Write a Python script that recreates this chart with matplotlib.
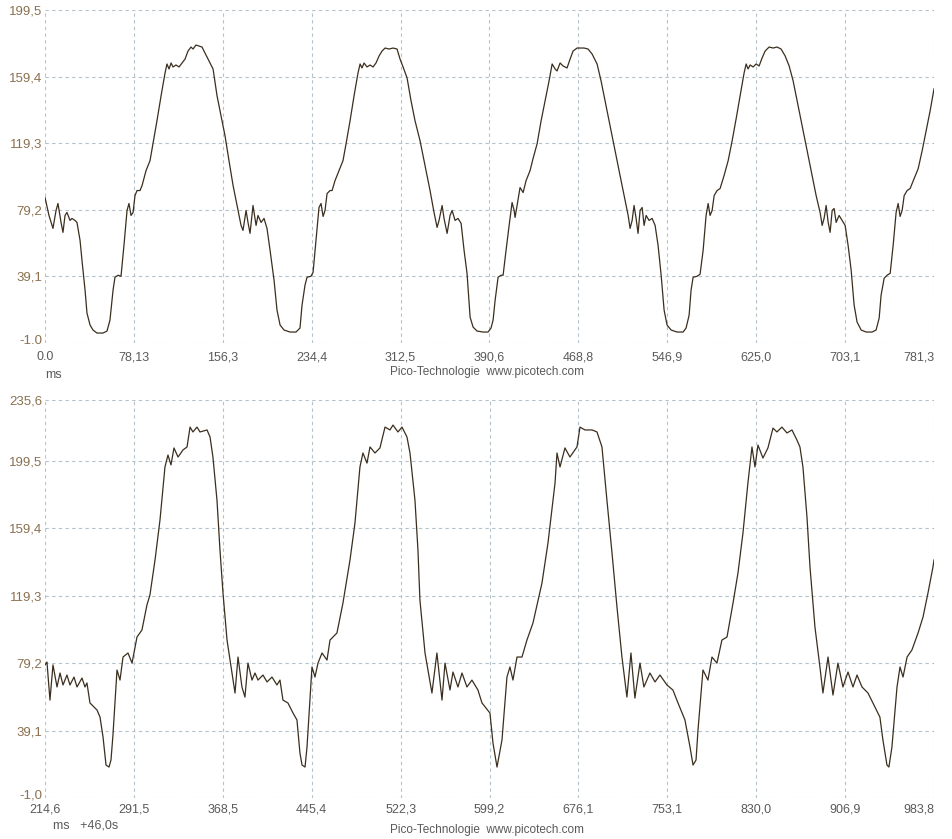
import matplotlib
matplotlib.use("Agg")
import matplotlib.pyplot as plt
from matplotlib.transforms import ScaledTranslation

plt.rcParams['font.family'] = ['Liberation Sans', 'DejaVu Sans']

# upper trace (ms, value)
t_top = [0.0, 3.5, 7.0, 9.7, 11.4, 14.1, 15.8, 17.6, 19.3, 22.0, 23.7, 26.4, 28.1, 30.8, 32.5,
         35.2, 36.9, 39.6, 42.2, 45.7, 51.0, 54.5, 57.1, 59.8, 61.5, 64.2, 66.8, 69.4, 72.1, 73.8,
         75.6, 77.4, 79.1, 80.9, 83.5, 85.3, 88.8, 92.3, 94.9, 98.4, 102.0, 105.5, 107.2, 109.0,
         110.8, 112.5, 115.1, 117.8, 120.4, 123.1, 125.7, 128.3, 130.1, 132.7, 135.4, 138.0, 140.6,
         144.2, 147.7, 151.2, 154.7, 158.2, 161.7, 165.3, 168.8, 172.3, 174.0, 176.7, 178.4, 180.2,
         182.8, 185.5, 187.2, 189.9, 192.5, 195.1, 197.8, 201.3, 203.9, 206.6, 210.1, 215.4, 220.6,
         224.1,
         225.9, 228.5, 230.3, 233.8, 235.6, 238.2, 240.8, 242.6, 244.4, 246.1, 247.9, 250.5, 252.3,
         254.9, 258.4, 261.9, 264.6, 268.1, 271.6, 275.1, 276.9, 278.6, 280.4, 283.0, 285.7, 288.3,
         290.9, 293.6, 296.2, 298.9, 302.4, 305.9, 309.4, 312.0, 314.7, 318.2, 321.7, 325.2, 329.6,
         334.0, 338.4, 341.9, 344.6, 346.3, 349.0, 350.7, 353.4, 356.0, 357.8, 360.4, 363.0, 365.7,
         368.3, 370.9, 373.6, 376.2, 379.7, 385.0, 389.4, 392.0, 393.8,
         395.6, 398.2, 400.8, 402.6, 405.2, 407.9, 410.5, 412.3, 413.1, 414.9, 417.5, 420.2, 422.8,
         426.3, 428.9, 432.5, 436.0, 439.5, 443.0, 445.7, 448.3, 450.0, 452.7, 455.3, 458.8, 461.5,
         464.1, 467.6, 470.3, 473.8, 477.3, 480.8, 485.2, 488.7, 492.2, 496.6, 501.0, 505.4, 509.8,
         512.5, 514.2, 516.0, 517.7, 519.5, 521.2, 523.0, 524.8, 526.5, 528.3, 530.9, 533.6, 536.2,
         538.8, 541.5, 544.1, 546.7, 550.3, 555.5, 560.8, 563.4, 566.1,
         567.8, 569.6, 573.1, 575.7, 578.4, 581.0, 582.8, 584.5, 586.3, 588.1, 590.7, 593.3, 596.8,
         600.4, 603.9, 607.4, 610.9, 614.4, 616.2, 617.9, 619.7, 622.3, 625.0, 627.6, 630.2, 632.9,
         636.4, 639.9, 643.4, 646.9, 650.5, 654.0, 657.5, 661.0, 664.5, 668.9, 673.3, 677.7, 681.2,
         683.0, 684.7, 686.5, 688.3, 690.0, 691.8, 693.5, 695.3, 697.9, 700.6, 703.2, 705.8, 708.5,
         711.1, 713.7, 717.3, 721.7, 726.9, 730.4, 733.1,
         734.8, 737.5, 740.1, 742.8, 745.4, 748.0, 749.8, 751.5, 753.3, 755.1, 757.7, 760.3, 763.9,
         767.4, 770.9, 774.4, 777.9, 781.3]
v_top = [86.6, 75.8, 68.0, 78.8, 83.0, 71.6, 65.6, 75.8, 77.6, 72.8, 74.0, 72.8, 71.6, 60.8, 48.8,
         30.8, 17.0, 9.8, 6.8, 5.0, 5.0, 6.2, 12.8, 30.8, 38.6, 39.8, 39.2, 57.8, 78.8, 83.0,
         75.8, 77.6, 87.8, 90.8, 90.8, 93.8, 102.8, 108.8, 119.0, 132.8, 147.8, 161.6, 167.0, 164.0,
         167.6, 165.2, 166.4, 165.2, 167.6, 170.0, 174.8, 177.2, 176.0, 178.4, 177.8, 177.2, 173.6,
         168.8, 164.0, 147.8, 135.8, 123.8, 108.8, 93.8, 81.8, 69.8, 66.8, 78.8, 71.6, 65.0,
         81.8, 69.8, 75.8, 71.6, 74.0, 68.0, 54.8, 36.8, 18.8, 9.8, 6.8, 5.6, 5.6,
         8.0,
         21.8, 33.8, 38.6, 39.2, 41.6, 60.8, 80.6, 83.0, 75.2, 78.8, 89.0, 90.8, 90.8,
         96.8, 102.8, 108.8, 119.0, 132.8, 147.8, 161.6, 167.0, 164.6, 167.6, 165.2, 166.4, 165.2,
         167.6, 171.8, 174.8, 176.6, 176.0, 176.6, 176.0, 170.0, 165.2, 158.6, 144.8, 132.8, 120.8,
         105.8, 90.8, 77.6, 68.6, 72.8, 81.8, 74.0, 65.0, 75.8, 78.8, 72.8, 74.0, 71.0,
         54.8, 41.0, 14.6, 8.6, 6.2, 5.6, 5.6, 8.0, 12.8,
         24.8, 38.6, 39.8, 39.8, 54.8, 69.8, 83.6, 78.8, 74.6, 81.8, 92.6, 89.6, 96.8,
         102.8, 110.0, 119.0, 132.8, 144.8, 156.8, 167.0, 164.0, 162.8, 167.6, 165.8, 164.6, 170.0,
         174.8, 176.6, 176.6, 176.6, 176.0, 173.0, 167.0, 156.8, 144.8, 129.8, 114.8, 99.8, 84.8,
         75.8, 68.0, 72.8, 81.8, 74.0, 65.0, 78.8, 80.6, 69.8, 75.8, 72.8, 74.0, 69.8,
         57.8, 39.8, 18.8, 9.8, 6.8, 5.6, 5.6, 8.0, 15.8,
         30.8, 38.6, 39.2, 40.4, 54.8, 75.8, 83.0, 75.8, 78.8, 87.8, 90.8, 92.0, 99.8,
         108.8, 120.8, 134.0, 147.8, 161.6, 167.0, 164.0, 166.4, 165.2, 167.0, 165.8, 170.6, 174.8,
         177.2, 176.6, 177.2, 176.0, 171.8, 165.8, 156.8, 144.8, 132.8, 117.8, 102.8, 87.8, 77.6,
         69.8, 74.0, 81.8, 71.6, 65.6, 78.8, 80.0, 71.6, 75.8, 72.8, 69.8, 57.8, 42.8,
         21.8, 11.6, 6.8, 5.6, 5.6, 6.8, 14.0,
         27.8, 38.0, 39.8, 41.0, 57.8, 77.6, 83.0, 75.2, 78.8, 87.8, 90.8, 92.0, 98.0,
         104.0, 114.8, 126.8, 138.8, 152.0]

# lower trace (ms, value)
t_bot = [214.6, 216.3, 218.9, 221.5, 225.0, 227.6, 230.2, 233.6, 236.2, 239.7, 242.3, 246.6, 249.2,
         250.9, 253.5, 259.6, 262.2, 264.8, 267.4, 270.0, 271.7, 273.4, 276.9, 279.5, 282.1, 286.4,
         289.9, 294.2, 298.5, 302.8, 305.4, 309.8, 314.1, 318.4, 321.0, 323.6, 326.2, 329.7, 334.0,
         337.5, 340.1, 342.6, 346.1, 348.7, 354.8, 357.4, 359.9, 363.4, 366.0, 368.6, 372.1, 376.4,
         379.0, 381.6, 385.0, 387.6, 390.2, 393.7, 396.3, 398.9, 403.2, 406.7, 411.0, 415.3, 417.9,
         420.5, 424.8, 429.2, 432.6, 435.2, 437.0, 439.6, 441.3, 445.6, 448.2, 450.8, 454.3, 458.6,
         461.2, 467.2, 472.4, 478.5, 482.8, 487.1, 489.7, 493.2, 495.8, 500.1, 504.4, 508.8, 513.1,
         515.7, 520.0, 523.5, 527.8, 530.4, 534.7, 537.3, 539.0, 543.4, 549.4, 553.7, 558.1, 560.7,
         565.0, 567.6, 571.9, 575.4, 579.7, 584.0, 589.2, 592.7, 599.6, 602.2, 605.7, 610.0, 614.3,
         616.9, 619.5, 623.0, 627.3, 631.6, 636.8, 644.6, 649.8, 655.9, 657.6, 660.2, 664.5, 668.8,
         674.9, 677.5, 681.8, 687.9, 692.2, 696.5, 700.8, 705.2, 709.5, 713.8, 718.1, 721.6, 725.0,
         729.4, 732.8, 738.0, 742.4, 746.7, 752.7, 757.9, 762.3, 768.3, 772.7, 775.3, 777.9, 779.6,
         783.9, 788.2, 791.7, 796.0, 800.3, 804.7, 809.9, 814.2, 818.5, 822.8, 826.3, 828.9, 831.5,
         835.8, 840.1, 844.5, 847.9, 852.2, 856.6, 860.9, 865.2, 867.8, 870.4, 873.9, 876.5, 880.8,
         885.1, 887.7, 892.1, 896.4, 900.7, 905.0, 909.4, 913.7, 917.2, 921.5, 926.7, 932.7, 937.0,
         939.6, 943.1, 944.8, 947.4, 951.8, 954.4, 957.0, 960.5, 964.7, 970.0, 974.3, 978.6, 982.9,
         983.8]
v_bot = [78.1, 79.8, 57.2, 78.1, 65.0, 73.3, 66.2, 72.1, 66.2, 70.9, 65.0, 70.3, 65.0,
         67.4, 55.5, 51.3, 47.1, 35.3, 18.6, 17.4, 21.6, 36.4, 75.1, 69.1, 82.8, 85.2,
         79.2, 94.7, 98.9, 113.7, 119.7, 140.5, 164.3, 195.8, 202.9, 197.0, 207.1, 201.7, 205.9,
         207.7, 219.5, 216.6, 219.5, 216.6, 217.8, 213.6, 201.7, 176.1, 146.4, 120.9, 92.9, 73.3,
         61.4, 82.8, 65.0, 59.0, 79.2, 69.1, 73.3, 69.1, 72.1, 68.0, 70.9, 66.2, 69.1,
         57.2, 55.5, 49.5, 45.4, 25.7, 18.6, 17.4, 29.3, 76.9, 70.9, 79.2, 85.2, 81.0,
         92.9, 97.1, 114.9, 140.5, 162.5, 195.8, 204.1, 198.1, 207.7, 204.1, 207.1, 219.5, 217.8,
         220.7, 216.6, 219.5, 213.6, 204.1, 176.1, 146.4, 116.7, 85.2, 61.4, 85.2, 57.2, 79.2,
         63.2, 73.9, 65.0, 73.3, 65.0, 69.1, 63.2, 55.5, 49.5, 31.7, 17.4, 33.5, 70.9,
         76.9, 69.1, 82.8, 82.8, 92.9, 103.0, 126.8, 150.6, 186.3, 204.1, 195.8, 207.1, 201.7,
         207.7, 219.5, 217.8, 217.8, 216.6, 207.7, 176.1, 144.6, 112.5, 82.8, 59.0, 85.2, 58.4,
         79.2, 65.0, 73.3, 68.0, 72.1, 66.2, 63.2, 55.5, 45.4, 29.3, 18.6, 21.6, 39.4,
         75.1, 69.1, 82.8, 79.2, 92.9, 94.7, 114.9, 132.8, 156.5, 186.3, 207.7, 195.8, 208.8,
         201.1, 207.1, 218.9, 216.6, 219.5, 216.0, 217.8, 211.8, 207.7, 195.8, 166.0, 136.3, 100.6,
         76.9, 61.4, 82.8, 60.2, 79.2, 65.0, 73.9, 65.0, 72.1, 65.0, 61.4, 53.1, 47.1,
         33.5, 18.6, 17.4, 29.3, 65.0, 76.9, 70.9, 82.8, 87.0, 97.1, 106.6, 120.9, 136.3,
         140.5]

# axis ticks
xt_top = [0.0, 78.13, 156.3, 234.4, 312.5, 390.6, 468.8, 546.9, 625.0, 703.1, 781.3]
xl_top = ["0.0", "78,13", "156,3", "234,4", "312,5", "390,6", "468,8", "546,9", "625,0", "703,1", "781,3"]
yt_top = [-1.0, 39.1, 79.2, 119.3, 159.4, 199.5]
yl_top = ["-1.0", "39,1", "79,2", "119,3", "159,4", "199,5"]

xt_bot = [214.6, 291.5, 368.5, 445.4, 522.3, 599.2, 676.1, 753.1, 830.0, 906.9, 983.8]
xl_bot = ["214,6", "291,5", "368,5", "445,4", "522,3", "599,2", "676,1", "753,1", "830,0", "906,9", "983,8"]
yt_bot = [-1.0, 39.1, 79.2, 119.3, 159.4, 199.5, 235.6]
yl_bot = ["-1,0", "39,1", "79,2", "119,3", "159,4", "199,5", "235,6"]

W, H = 953, 839
LINE = '#3b2e1e'
GRID = '#b4c2cb'
YCOL = '#8a7050'
XCOL = '#5a5a5a'


def setup(ax, t, v, xt, xl, yt, yl, xpad):
    ax.plot(t, v, color=LINE, linewidth=0.9)
    ax.set_xlim(xt[0], xt[-1])
    ax.set_ylim(yt[0], yt[-1])
    ax.set_xticks(xt)
    ax.set_xticklabels(xl, fontsize=9, color=XCOL)
    ax.set_yticks(yt)
    ax.set_yticklabels(yl, fontsize=9.5, color=YCOL)
    ax.get_xticklabels()[-1].set_ha('right')
    ax.tick_params(axis='x', length=0, pad=xpad)
    ax.tick_params(axis='y', length=0, pad=2)
    # lowest y label sits a little above its gridline, as in the scope software
    low = ax.get_yticklabels()[0]
    low.set_transform(low.get_transform() + ScaledTranslation(0, 4 / 100, fig.dpi_scale_trans))
    ax.grid(True, color=GRID, linestyle=(0, (3, 3)), linewidth=0.8)
    for s in ax.spines.values():
        s.set_visible(False)


fig = plt.figure(figsize=(W / 100, H / 100), dpi=100)
fig.patch.set_facecolor('white')

# pixel boxes of the two plot areas
ax1 = fig.add_axes([45 / W, 1 - 343 / H, 889 / W, 333 / H])
ax2 = fig.add_axes([45 / W, 1 - 798 / H, 889 / W, 398 / H])

setup(ax1, t_top, v_top, xt_top, xl_top, yt_top, yl_top, 6)
setup(ax2, t_bot, v_bot, xt_bot, xl_bot, yt_bot, yl_bot, 4)

# footer texts
fig.text(45 / W, 1 - 375 / H, "ms", fontsize=9, color=XCOL, va='center')
fig.text(487 / W, 1 - 372 / H, "Pico-Technologie  www.picotech.com", fontsize=8.5,
         color=XCOL, ha='center', va='center')
fig.text(53 / W, 1 - 826 / H, "ms   +46,0s", fontsize=9, color=XCOL, va='center')
fig.text(487 / W, 1 - 830 / H, "Pico-Technologie  www.picotech.com", fontsize=8.5,
         color=XCOL, ha='center', va='center')

fig.savefig("out.png", dpi=100)
